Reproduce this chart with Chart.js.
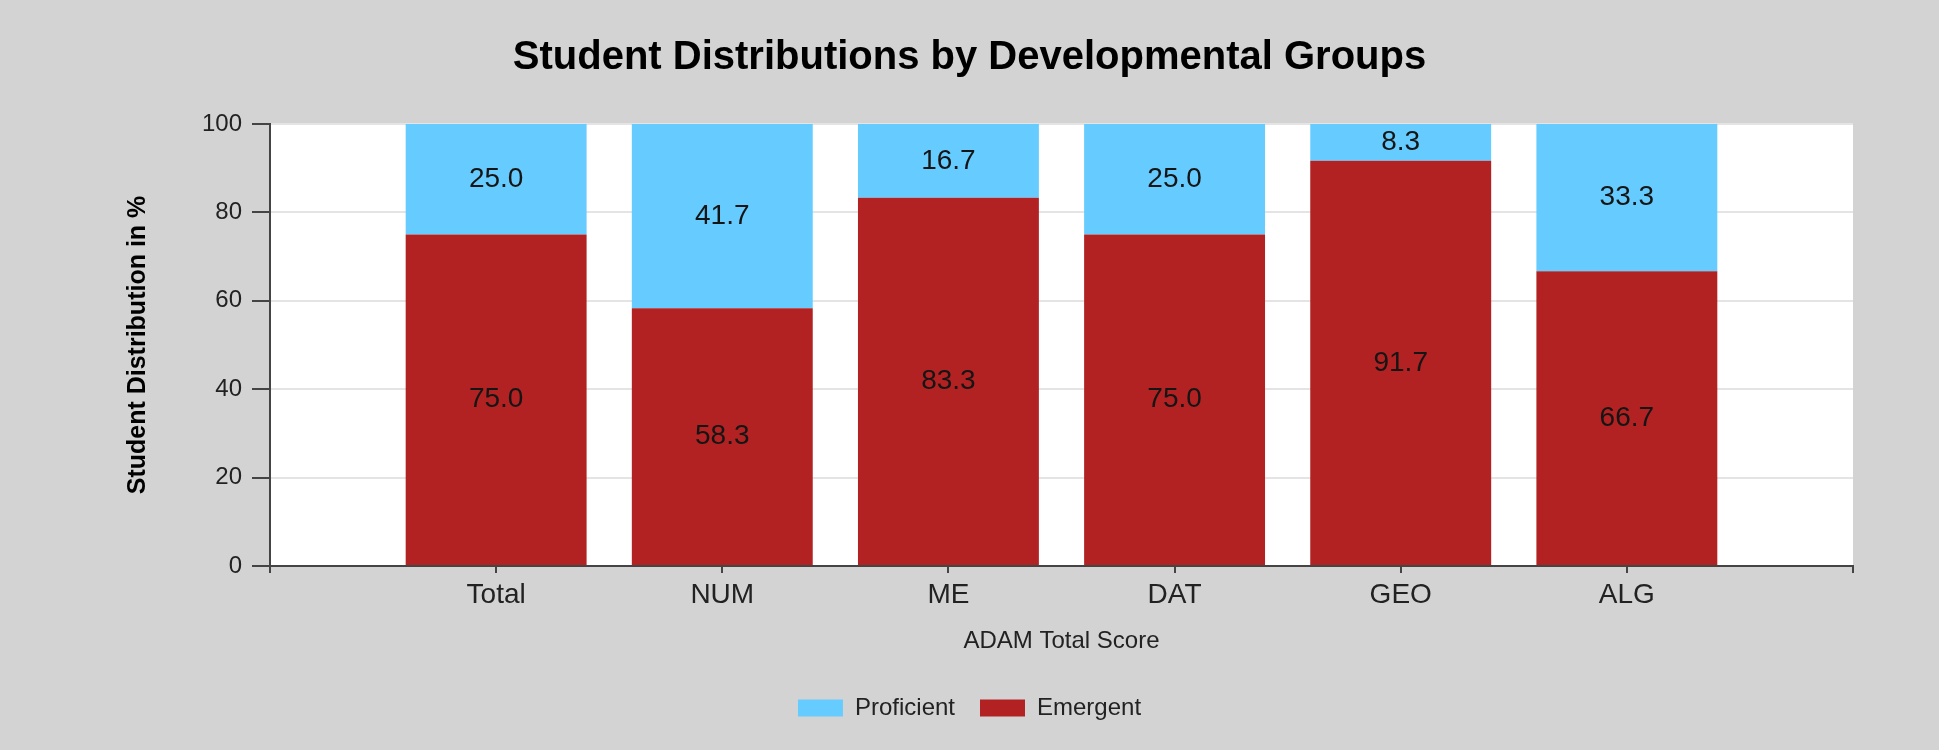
<!DOCTYPE html>
<html>
<head>
<meta charset="utf-8">
<script src="https://cdn.jsdelivr.net/npm/chart.js@4"></script>
<style>
  body { margin: 0; background: #d3d3d3; }
  #wrap { width: 1939px; height: 750px; }
</style>
</head>
<body>
<div id="wrap"><canvas id="distChart" width="1939" height="750"></canvas></div>
<script>
// data
const categories = ["Total", "NUM", "ME", "DAT", "GEO", "ALG"];
const proficient = [25.0, 41.7, 16.7, 25.0, 8.3, 33.3];
const emergent = [75.0, 58.3, 83.3, 75.0, 91.7, 66.7];
const yTicks = [0, 20, 40, 60, 80, 100];

// empty slot on each side, like the original axis
const labels = [""].concat(categories, [""]);
const pad = (arr) => [null].concat(arr, [null]);

const FONT = "'Liberation Sans', Arial, sans-serif";

// gray page + white plot area
const bgPlugin = {
  id: "bg",
  beforeDraw(chart) {
    const { ctx, chartArea: a } = chart;
    ctx.save();
    ctx.fillStyle = "#d3d3d3";
    ctx.fillRect(0, 0, chart.width, chart.height);
    ctx.fillStyle = "#ffffff";
    ctx.fillRect(a.left, a.top, a.right - a.left, a.bottom - a.top);
    ctx.restore();
  },
};

// value labels in the middle of each segment
const valuePlugin = {
  id: "values",
  afterDatasetsDraw(chart) {
    const ctx = chart.ctx;
    ctx.save();
    ctx.font = "28px " + FONT;
    ctx.fillStyle = "#151515";
    ctx.textAlign = "center";
    ctx.textBaseline = "middle";
    chart.data.datasets.forEach((ds, i) => {
      chart.getDatasetMeta(i).data.forEach((bar, j) => {
        const v = ds.data[j];
        if (v === null || v === undefined) return;
        ctx.fillText(v.toFixed(1), bar.x, (bar.y + bar.base) / 2);
      });
    });
    ctx.restore();
  },
};

const config = {
  type: "bar",
  data: {
    labels: labels,
    datasets: [
      {
        label: "Emergent",
        data: pad(emergent),
        backgroundColor: "#b22222",
        barPercentage: 0.8,
        categoryPercentage: 1.0,
      },
      {
        label: "Proficient",
        data: pad(proficient),
        backgroundColor: "#66ccff",
        barPercentage: 0.8,
        categoryPercentage: 1.0,
      },
    ],
  },
  options: {
    responsive: false,
    animation: false,
    layout: { padding: { left: 0, right: 0, top: 0, bottom: 20 } },
    scales: {
      x: {
        stacked: true,
        offset: false,
        grid: { display: true, offset: false, drawOnChartArea: false, tickLength: 7, tickColor: "#444", lineWidth: 2 },
        border: { display: true, color: "#444", width: 2 },
        ticks: { color: "#222", font: { family: FONT, size: 28 }, padding: 5, maxRotation: 0, autoSkip: false },
        title: {
          display: true,
          text: "ADAM Total Score",
          color: "#222",
          font: { family: FONT, size: 24 },
          padding: { top: 0, bottom: 15 },
        },
        afterFit(scale) { scale.height = 105; },
      },
      y: {
        stacked: true,
        min: 0,
        max: 100,
        afterBuildTicks(scale) { scale.ticks = yTicks.map((v) => ({ value: v })); },
        grid: { color: "#e4e4e4", lineWidth: 2, tickLength: 18, tickColor: "#444" },
        border: { display: true, color: "#444", width: 2 },
        ticks: { color: "#222", font: { family: FONT, size: 24 }, padding: 10 },
        title: {
          display: true,
          text: "Student Distribution in %",
          color: "#000",
          font: { family: FONT, size: 25, weight: "bold" },
          padding: { top: 123, bottom: 0 },
        },
        afterFit(scale) { scale.width = 270; },
      },
      // empty strip on the right so titles and legend centre on the page
      yRight: {
        position: "right",
        display: true,
        grid: { display: false },
        border: { display: false },
        ticks: { display: false },
        afterFit(scale) { scale.width = 86; },
      },
    },
    plugins: {
      title: {
        display: true,
        text: "Student Distributions by Developmental Groups",
        color: "#000",
        font: { family: FONT, size: 40, weight: "bold" },
        padding: { top: 34, bottom: 42 },
      },
      legend: {
        display: true,
        position: "bottom",
        reverse: true,
        labels: {
          color: "#222",
          font: { family: FONT, size: 24 },
          boxWidth: 45,
          boxHeight: 17,
          padding: 25,
        },
      },
      tooltip: { enabled: false },
    },
  },
  plugins: [bgPlugin, valuePlugin],
};

const distChart = new Chart(document.getElementById("distChart").getContext("2d"), config);
</script>
</body>
</html>
